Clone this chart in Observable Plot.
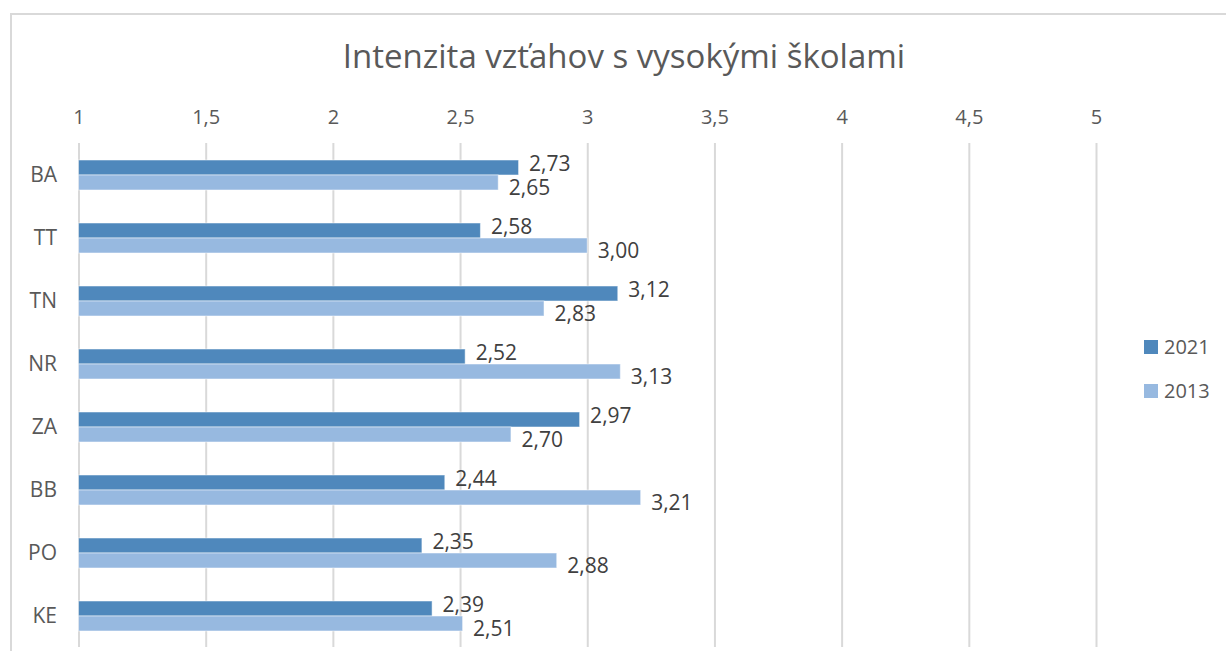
<!DOCTYPE html>
<html>
<head>
<meta charset="utf-8">
<script src="https://cdn.jsdelivr.net/npm/d3@7"></script>
<script src="https://cdn.jsdelivr.net/npm/@observablehq/plot@0.6"></script>
<style>
  html, body { margin: 0; padding: 0; background: #fff; }
  body { width: 1226px; height: 651px; overflow: hidden; position: relative; font-family: "Open Sans", sans-serif; }
  #frame { position: absolute; left: 10px; top: 13px; width: 1240px; height: 700px; border: 2px solid #d9d9d9; box-sizing: border-box; }
  #chart { position: absolute; left: 0; top: 0; }
  #title { position: absolute; left: 0; width: 1248px; top: 33px; text-align: center; font-size: 33px; color: #595959; font-family: "Open Sans", sans-serif; white-space: nowrap; }
  #legend { position: absolute; left: 1144px; top: 333px; }
  #legend .lg-swatch { margin-bottom: 16px !important; font-size: 20px !important; color: #595959; font-family: "Open Sans", sans-serif; }
  #legend .lg-swatch svg { margin-right: 6px !important; }
</style>
</head>
<body>
<div id="frame"></div>
<div id="chart"></div>
<div id="title">Intenzita vzťahov s vysokými školami</div>
<div id="legend"></div>
<script>
const regions = ["BA", "TT", "TN", "NR", "ZA", "BB", "PO", "KE"];
const years = ["2021", "2013"];
const values2021 = [2.73, 2.58, 3.12, 2.52, 2.97, 2.44, 2.35, 2.39];
const values2013 = [2.65, 3.00, 2.83, 3.13, 2.70, 3.21, 2.88, 2.51];
const xTicks = [1, 1.5, 2, 2.5, 3, 3.5, 4, 4.5, 5];
const colors = ["#4f88bc", "#97b9e0"];

const data = [];
regions.forEach((r, i) => {
  data.push({region: r, year: "2021", value: values2021[i]});
  data.push({region: r, year: "2013", value: values2013[i]});
});
const fmt = (v, digits) => (digits == null ? String(v) : v.toFixed(digits)).replace(".", ",");

const chart = Plot.plot({
  width: 1226,
  height: 651,
  marginLeft: 78.5,
  marginRight: 130,
  marginTop: 142,
  marginBottom: 4,
  style: {fontFamily: "Open Sans, sans-serif", fontSize: "20px", color: "#595959", background: "transparent"},
  x: {domain: [1, 5], axis: null, label: null},
  y: {domain: years, paddingInner: 0, paddingOuter: 1.1, axis: null, label: null},
  fy: {domain: regions, padding: 0, axis: null, label: null},
  color: {domain: years, range: colors},
  marks: [
    Plot.ruleX(xTicks, {stroke: "#d9d9d9", strokeWidth: 2}),
    Plot.axisX({anchor: "top", ticks: xTicks, tickSize: 0, tickPadding: 20, tickFormat: d => fmt(d), fill: "#595959", fontSize: 20, label: null}),
    Plot.axisFy({anchor: "left", tickSize: 0, tickPadding: 22, fill: "#595959", fontSize: 21, label: null}),
    Plot.barX(data, {x1: 1, x2: "value", y: "year", fy: "region", fill: "year", stroke: "#ffffff", strokeOpacity: 0.5, strokeWidth: 1}),
    Plot.text(data.filter(d => d.year === "2021"), {x: "value", y: "year", fy: "region", text: d => fmt(d.value, 2), textAnchor: "start", dx: 10, dy: -4, fill: "#404040", fontSize: 21}),
    Plot.text(data.filter(d => d.year === "2013"), {x: "value", y: "year", fy: "region", text: d => fmt(d.value, 2), textAnchor: "start", dx: 10, dy: 5, fill: "#404040", fontSize: 21})
  ]
});
document.getElementById("chart").appendChild(chart);

const legend = Plot.legend({
  color: {domain: years, range: colors},
  legend: "swatches",
  columns: 1,
  swatchSize: 14,
  className: "lg"
});
document.getElementById("legend").appendChild(legend);
</script>
</body>
</html>
